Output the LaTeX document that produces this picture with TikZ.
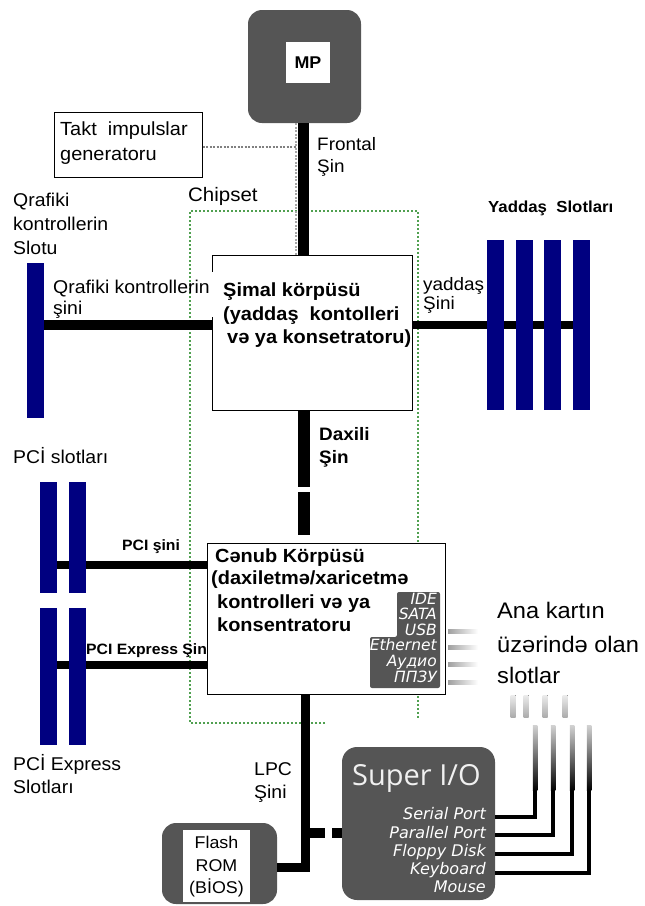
\documentclass[tikz,border=0pt]{standalone}
\usepackage{fontspec}
\setmainfont{Liberation Sans}[FakeStretch=1.05]
\newfontfamily\dejavu{DejaVu Sans}
\newfontfamily\opensans{Open Sans}
\definecolor{dk}{RGB}{85,85,85}
\definecolor{navyslot}{RGB}{0,0,128}
\definecolor{chipgreen}{RGB}{80,160,80}
\begin{document}
\begin{tikzpicture}[x=1pt,y=-1pt,
  lbl/.style={anchor=base west, inner sep=0pt, font=\fontsize{18.5}{21}\selectfont},
  blbl/.style={anchor=base west, inner sep=0pt, font=\bfseries\fontsize{19}{21}\selectfont},
  nlbl/.style={anchor=base west, inner sep=0pt, font=\bfseries\fontsize{15}{18}\selectfont},
  darkbox/.style={fill=dk, rounded corners=14pt, inner sep=0pt},
  whitebox/.style={fill=white, draw=black, line width=1pt, inner sep=0pt},
  slotbar/.style={fill=navyslot, inner sep=0pt, minimum width=17pt},
  bus/.style={draw=black, line join=miter},
  port/.style={anchor=base east, inner sep=0pt, text=white, font=\dejavu\itshape\fontsize{16}{18}\selectfont},
  panel/.style={anchor=base east, inner sep=0pt, text=white, font=\dejavu\itshape\fontsize{15.5}{16}\selectfont},
  cable/.style={draw=black, line width=4.5pt, line join=miter}
]
\useasboundingbox (0,0) rectangle (645,906);

% chipset frame
\draw[chipgreen, dash pattern=on 2pt off 2pt, line width=1.1pt]
  (325,723) -- (190,723) -- (190,211) -- (418,211) -- (418,718);

% boxes
\node[darkbox, minimum width=113pt, minimum height=113pt] (mp) at (304.5,66.5) {};
\node[fill=white, inner sep=0pt, minimum width=44pt, minimum height=41pt,
      font=\bfseries\fontsize{17}{17}\selectfont] (mpin) at (308,62.5) {MP};
\node[whitebox, minimum width=148pt, minimum height=65pt] (takt) at (128,144.5) {};
\node[whitebox, minimum width=200pt, minimum height=155pt] (nb) at (312,332.5) {};
\node[whitebox, minimum width=238pt, minimum height=151pt] (sb) at (326,618.5) {};
\node[darkbox, minimum width=115pt, minimum height=81pt] (flash) at (219.5,863.5) {};
\node[fill=white, inner sep=0pt, minimum width=67pt, minimum height=72pt] (flashin) at (216.5,866) {};
\node[darkbox, rounded corners=15pt, minimum width=153pt, minimum height=153pt] (sio) at (418.5,823.5) {};

% gap in north bridge left border
\fill[white] (210.5,272) rectangle (213.5,317);

% clock line
\coordinate (ck) at (296,147);
\draw[gray, dash pattern=on 2pt off 1.5pt, line width=1.2pt] (takt.east |- ck) -- (ck);
\draw[gray!70, dash pattern=on 2pt off 1.5pt, line width=1.2pt] (ck |- mp.south) -- (ck |- nb.north);

% frontal bus
\coordinate (fs) at (303.5,0);
\draw[bus, line width=11pt] (fs |- mp.south) -- (fs |- nb.north);

% graphics slot and bus
\node[slotbar, minimum height=155pt] (gslot) at (35.5,340.5) {};
\coordinate (gb) at (0,325);
\draw[bus, line width=10pt] (gb -| gslot.east) -- (gb -| nb.west);

% memory bus and slots
\coordinate (mb) at (0,325);
\coordinate (mlast) at (581,325);
\draw[bus, line width=8pt] (mb -| nb.east) -- (mlast);
\node[slotbar, minimum height=170pt] (m1) at (495.5,325) {};
\node[slotbar, minimum height=170pt] (m2) at (524.5,325) {};
\node[slotbar, minimum height=170pt] (m3) at (552.5,325) {};
\node[slotbar, minimum height=170pt] (m4) at (mlast) {};

% internal bus (broken)
\coordinate (dx) at (304,0);
\coordinate (dxa) at (304,487);
\coordinate (dxb) at (304,492);
\coordinate (dxc) at (304,535);
\draw[bus, line width=12pt] (dx |- nb.south) -- (dxa);
\draw[bus, line width=12pt] (dxb) -- (dxc);

% PCI / PCIe buses and slots
\coordinate (pcy) at (0,565);
\coordinate (pey) at (0,665);
\node[slotbar, minimum height=111pt] (p1) at (48.5,537.5) {};
\node[slotbar, minimum height=137pt] (e1) at (48.5,676.5) {};
\draw[bus, line width=8pt] (pcy -| p1.east) -- (pcy -| sb.west);
\draw[bus, line width=8pt] (pey -| e1.east) -- (pey -| sb.west);
\node[slotbar, minimum height=111pt] (p2) at (77,537.5) {};
\node[slotbar, minimum height=137pt] (e2) at (77,676.5) {};

% LPC bus
\coordinate (lx) at (305.5,0);
\coordinate (lc) at (305.5,867);
\draw[bus, line width=9pt] (lx |- sb.south) -- (lc) -- (lc -| flash.east);
\coordinate (la) at (310,833);
\coordinate (lb) at (325,833);
\coordinate (lcc) at (332,833);
\draw[bus, line width=10pt] (la) -- (lb);
\draw[bus, line width=10pt] (lcc) -- (lcc -| sio.west);

% south bridge port panel
\fill[dk, rounded corners=2pt] (397,592) -- (440,592) -- (440,688) -- (370,688) -- (370,637) -- (397,637) -- cycle;
\node[panel] (tide) at (437,604) {IDE};
\node[panel] (tsata) at (437,619.6) {SATA};
\node[panel] (tusb) at (437,635.2) {USB};
\node[panel] (teth) at (437,650.8) {Ethernet};
\node[panel] (taud) at (437,666.4) {Аудио};
\node[panel] (tppz) at (437,682) {ППЗУ};

% fading stubs from panel
\foreach \yy in {631,647,664,682}{
  \fill[left color=gray!75, right color=white] (448,\yy-2) rectangle (478,\yy+2);
}
% upper connector stubs
\foreach \xx in {513,526,545,565}{
  \fill[top color=gray!15, bottom color=gray!65] (\xx-2.5,695) rectangle (\xx+2.5,717);
}
% cables from Super I/O
\coordinate (cS) at (535,817);
\coordinate (cP) at (553,835);
\coordinate (cF) at (572,854);
\coordinate (cK) at (589,873);
\coordinate (ctop) at (0,790);
\foreach \c in {cS,cP,cF,cK}{
  \draw[cable] (\c -| sio.east) -- (\c) -- (\c |- ctop);
}
\foreach \xx in {535,553,572,589}{
  \fill[top color=gray!35, bottom color=black] (\xx-2.25,725) rectangle (\xx+2.25,790.5);
}

% texts
\node[lbl, font=\fontsize{19}{21}\selectfont] (tk1) at (60,135) {Takt\ \ impulslar};
\node[lbl, font=\fontsize{19}{21}\selectfont] (tk2) at (60,160) {generatoru};
\node[lbl, font=\fontsize{18}{21}\selectfont] (fr1) at (317,150) {Frontal};
\node[lbl, font=\fontsize{18}{21}\selectfont] (fr2) at (317,172) {Şin};
\node[lbl, font=\fontsize{19.5}{21}\selectfont] (chip) at (188,201) {Chipset};
\node[lbl] (q1) at (13,206) {Qrafiki};
\node[lbl] (q2) at (13,230) {kontrollerin};
\node[lbl] (q3) at (13,254) {Slotu};
\node[lbl] (qb1) at (53,293) {Qrafiki kontrollerin};
\node[lbl] (qb2) at (53,314) {şini};
\node[blbl] (n1) at (223,296) {Şimal körpüsü};
\node[blbl] (n2) at (223,320) {(yaddaş\ \ kontolleri};
\node[blbl] (n3) at (227,343) {və ya konsetratoru)};
\node[blbl, font=\bfseries\fontsize{16}{18}\selectfont] (ys) at (488,212) {Yaddaş\ \ Slotları};
\node[lbl, font=\fontsize{18}{21}\selectfont] (yb1) at (423,290) {yaddaş};
\node[lbl, font=\fontsize{18}{21}\selectfont] (yb2) at (423,309) {Şini};
\node[blbl, font=\bfseries\fontsize{18}{21}\selectfont] (dx1) at (319,440) {Daxili};
\node[blbl, font=\bfseries\fontsize{18}{21}\selectfont] (dx2) at (319,463) {Şin};
\node[lbl] (pcil) at (13,463) {PCİ slotları};
\node[nlbl] (pcib) at (122,550) {PCI şini};
\node[nlbl] (pcieb) at (86,654) {PCI Express Şin};
\node[lbl] (pe1) at (13,770) {PCİ Express};
\node[lbl] (pe2) at (13,793) {Slotları};
\node[blbl] (c1) at (215,562) {Cənub Körpüsü};
\node[blbl] (c2) at (211,584) {(daxiletmə/xaricetmə};
\node[blbl] (c3) at (217,608) {kontrolleri və ya};
\node[blbl] (c4) at (217,631) {konsentratoru};
\node[lbl, font=\fontsize{22.5}{26}\selectfont] (ana1) at (497,618) {Ana kartın};
\node[lbl, font=\fontsize{22.5}{26}\selectfont] (ana2) at (497,652) {üzərində olan};
\node[lbl, font=\fontsize{22.5}{26}\selectfont] (ana3) at (497,683) {slotlar};
\node[lbl, font=\fontsize{18.5}{21}\selectfont] (lpc1) at (254,775) {LPC};
\node[lbl, font=\fontsize{18.5}{21}\selectfont] (lpc2) at (254,798) {Şini};
\node[anchor=base, inner sep=0pt, font=\fontsize{17}{19}\selectfont] (fl1) at (216.5,848) {Flash};
\node[anchor=base, inner sep=0pt, font=\fontsize{17}{19}\selectfont] (fl2) at (216.5,871) {ROM};
\node[anchor=base, inner sep=0pt, font=\fontsize{17}{19}\selectfont] (fl3) at (216.5,893) {(BİOS)};
\node[anchor=base west, inner sep=0pt, text=gray!12, font=\opensans\fontsize{29}{32}\selectfont] (siot) at (352,785) {Super I/O};
\node[port] (ps) at (486,819) {Serial Port};
\node[port] (pp) at (486,838) {Parallel Port};
\node[port] (pf) at (486,856) {Floppy Disk};
\node[port] (pk) at (486,874) {Keyboard};
\node[port] (pm) at (486,892) {Mouse};
\end{tikzpicture}
\end{document}
